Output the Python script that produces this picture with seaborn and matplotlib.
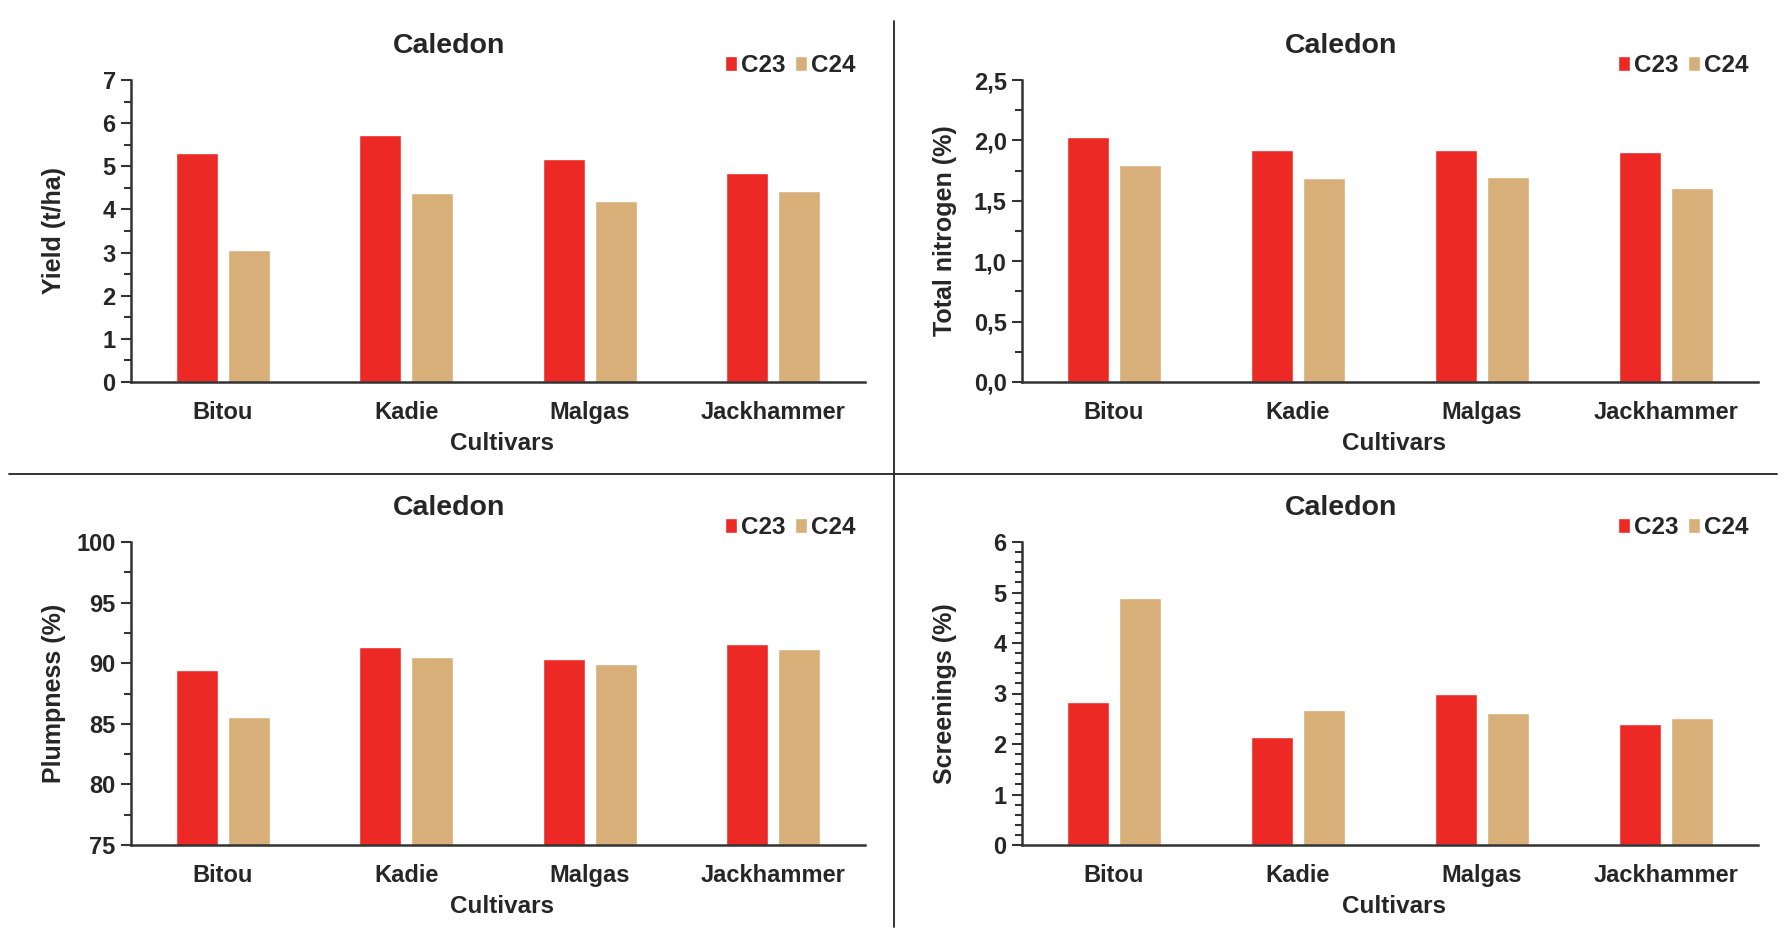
import matplotlib
matplotlib.use("Agg")
import matplotlib.pyplot as plt
import seaborn as sns
import pandas as pd
from matplotlib.ticker import MultipleLocator, FuncFormatter

cultivars = ["Bitou", "Kadie", "Malgas", "Jackhammer"]
seasons = ["C23", "C24"]

yield_c23 = [5.30, 5.72, 5.17, 4.84]
yield_c24 = [3.05, 4.38, 4.20, 4.42]
nitrogen_c23 = [2.03, 1.92, 1.92, 1.90]
nitrogen_c24 = [1.80, 1.69, 1.70, 1.61]
plump_c23 = [89.4, 91.35, 90.35, 91.6]
plump_c24 = [85.6, 90.5, 89.9, 91.15]
screen_c23 = [2.83, 2.13, 3.00, 2.39]
screen_c24 = [4.90, 2.68, 2.62, 2.51]

colors = {"C23": "#ED2926", "C24": "#D8AF79"}

sns.set_theme(style="white")
plt.rcParams["font.family"] = ["Liberation Sans", "DejaVu Sans"]
plt.rcParams["font.weight"] = "bold"


def long_table(c23, c24):
    return pd.DataFrame({
        "Cultivar": cultivars * 2,
        "Season": ["C23"] * 4 + ["C24"] * 4,
        "Value": list(c23) + list(c24),
    })


def draw_panel(ax, c23, c24, ylabel, ylim, major, minor, comma=False):
    df = long_table(c23, c24)
    sns.barplot(data=df, x="Cultivar", y="Value", hue="Season", order=cultivars,
                hue_order=seasons, palette=colors, width=0.572, gap=0.2,
                saturation=1, errorbar=None, ax=ax)
    ax.set_ylim(*ylim)
    ax.set_xlim(-0.5, 3.5)
    ax.yaxis.set_major_locator(MultipleLocator(major))
    ax.yaxis.set_minor_locator(MultipleLocator(minor))
    if comma:
        ax.yaxis.set_major_formatter(FuncFormatter(lambda v, p: f"{v:.1f}".replace(".", ",")))
    for s in ["top", "right"]:
        ax.spines[s].set_visible(False)
    for s in ["left", "bottom"]:
        ax.spines[s].set_color("#333333")
        ax.spines[s].set_linewidth(1.8)
    ax.tick_params(axis="y", which="major", left=True, length=7, width=1.5,
                   color="#333333", labelsize=17, pad=4)
    ax.tick_params(axis="y", which="minor", left=True, length=5, width=1.5, color="#333333")
    ax.tick_params(axis="x", length=0, labelsize=17, pad=14)
    for lab in ax.get_xticklabels() + ax.get_yticklabels():
        lab.set_fontweight("bold")
    ax.set_ylabel(ylabel, fontsize=18, fontweight="bold")
    ax.yaxis.set_label_coords(-0.088, 0.5)
    ax.set_xlabel("Cultivars", fontsize=17.5, fontweight="bold")
    ax.xaxis.set_label_coords(0.506, -0.165)
    handles, labels = ax.get_legend_handles_labels()
    ax.legend(handles, labels, ncol=2, loc="center right", bbox_to_anchor=(1.0, 1.048),
              frameon=False, handlelength=0.5, handleheight=0.55,
              handletextpad=0.15, columnspacing=0.4, borderaxespad=0,
              prop={"weight": "bold", "size": 17.5})


fig = plt.figure(figsize=(17.92, 9.39), dpi=100)
W, H = 1792, 939


def add_axes(x0, x1, ytop, ybot):
    return fig.add_axes([x0 / W, 1 - ybot / H, (x1 - x0) / W, (ybot - ytop) / H])


ax1 = add_axes(131, 865, 80, 382)
ax2 = add_axes(1022, 1758, 80, 382)
ax3 = add_axes(131, 865, 542, 845)
ax4 = add_axes(1022, 1758, 542, 845)

draw_panel(ax1, yield_c23, yield_c24, "Yield (t/ha)", (0, 7), 1, 0.5)
draw_panel(ax2, nitrogen_c23, nitrogen_c24, "Total nitrogen (%)", (0, 2.5), 0.5, 0.25, comma=True)
draw_panel(ax3, plump_c23, plump_c24, "Plumpness (%)", (75, 100), 5, 2.5)
draw_panel(ax4, screen_c23, screen_c24, "Screenings (%)", (0, 6), 1, 0.2)

for xc, yc in [(449, 46), (1341, 46), (449, 508), (1341, 508)]:
    fig.text(xc / W, 1 - yc / H, "Caledon", ha="center", va="center",
             fontsize=20.5, fontweight="bold")

# panel dividers
fig.add_artist(plt.Line2D([9 / W, 1777 / W], [1 - 474 / H, 1 - 474 / H],
                          color="#222222", linewidth=1.3))
fig.add_artist(plt.Line2D([894 / W, 894 / W], [1 - 21 / H, 1 - 927 / H],
                          color="#222222", linewidth=1.3))

fig.savefig("out.png", dpi=100, facecolor="white")
